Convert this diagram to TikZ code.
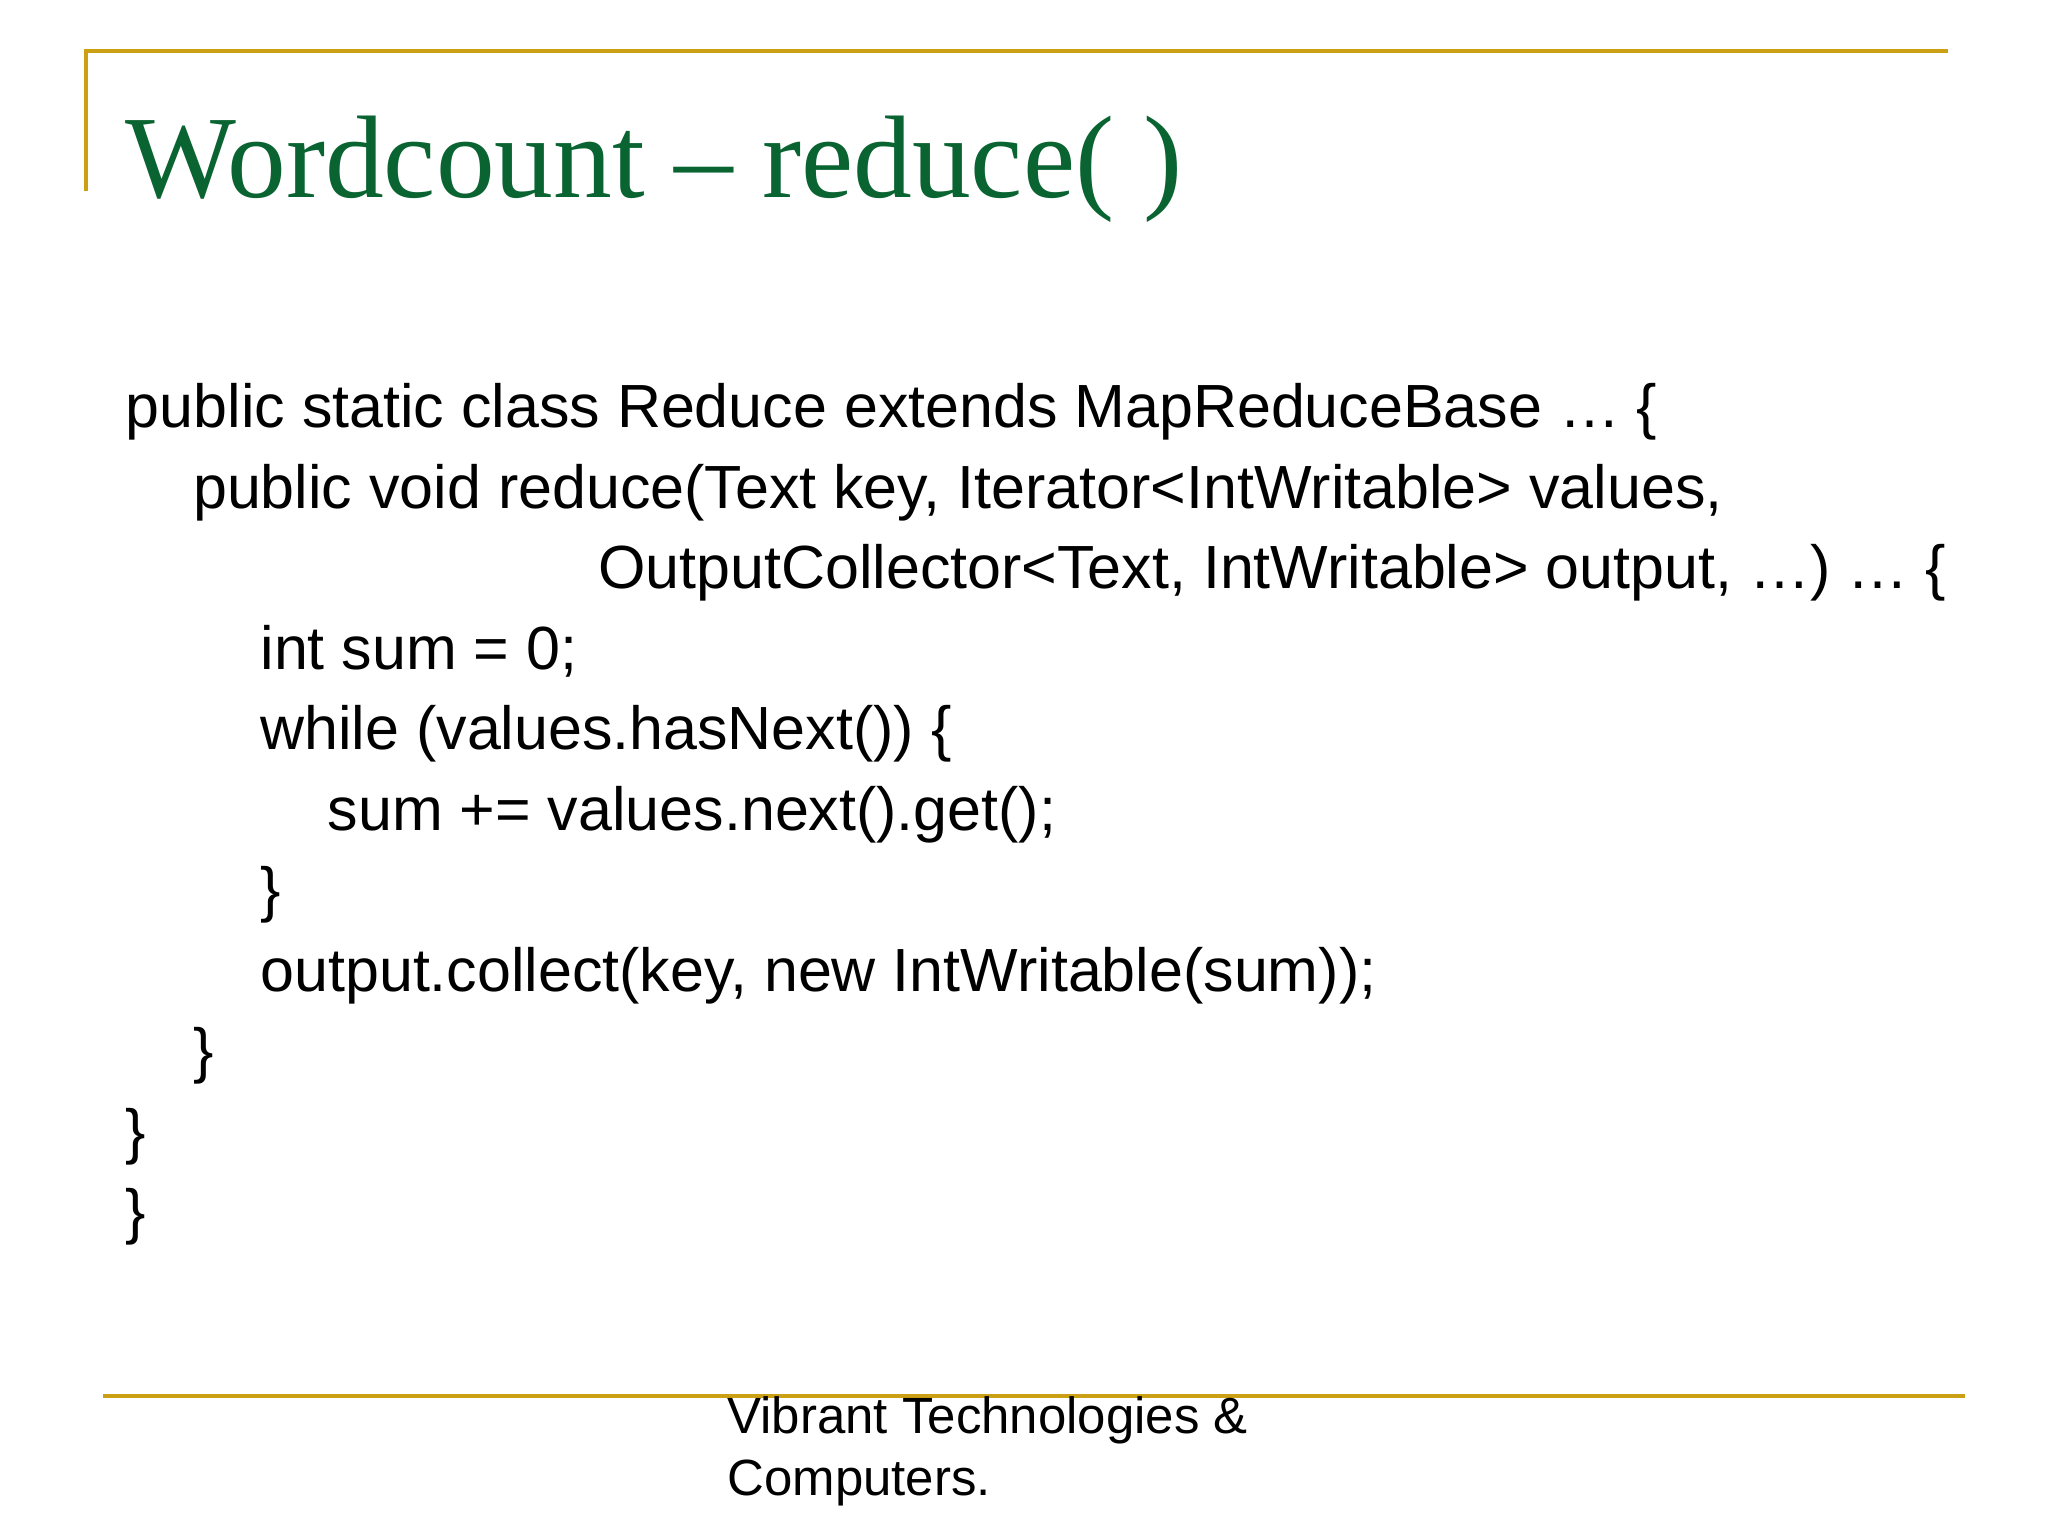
\documentclass[tikz,border=0pt]{standalone}
\usepackage{fontspec}
\setmainfont{Liberation Sans}
\newfontfamily\titlefont{Liberation Serif}
\definecolor{gold}{RGB}{204,160,20}
\definecolor{tgreen}{RGB}{10,100,50}
\begin{document}
\begin{tikzpicture}[x=0.5pt,y=-0.5pt,
  code/.style={anchor=base west,inner sep=0pt,font=\fontsize{23.1}{28}\selectfont},
  foot/.style={anchor=base west,inner sep=0pt,font=\fontsize{19.3}{23}\selectfont},
  rule/.style={draw=gold,line width=1.5pt}]
\useasboundingbox[fill=white] (0,0) rectangle (1552,1164);
\draw[rule] (65,145) -- (65,39) -- (1476,39);
\draw[rule] (78,1058) -- (1489,1058);
\node[anchor=base west,inner sep=0pt,text=tgreen,font=\titlefont\fontsize{44.5}{52}\selectfont] (title) at (95,150) {Wordcount – reduce( )};
\node[code] (l1) at (95,324) {public static class Reduce extends MapReduceBase … \{};
\node[code] (l2) at (146,385) {public void reduce(Text key, Iterator<IntWritable> values,};
\node[code] (l3) at (453,446) {OutputCollector<Text, IntWritable> output, …) … \{};
\node[code] (l4) at (197,507) {int sum = 0;};
\node[code] (l5) at (197,568) {while (values.hasNext()) \{};
\node[code] (l6) at (248,629) {sum += values.next().get();};
\node[code] (l7) at (197,690) {\}};
\node[code] (l8) at (197,751) {output.collect(key, new IntWritable(sum));};
\node[code] (l9) at (146,812) {\}};
\node[code] (l10) at (95,873) {\}};
\node[code] (l11) at (95,934) {\}};
\node[foot] (f1) at (551,1086) {Vibrant Technologies \&};
\node[foot] (f2) at (551,1133) {Computers.};
\end{tikzpicture}
\end{document}
